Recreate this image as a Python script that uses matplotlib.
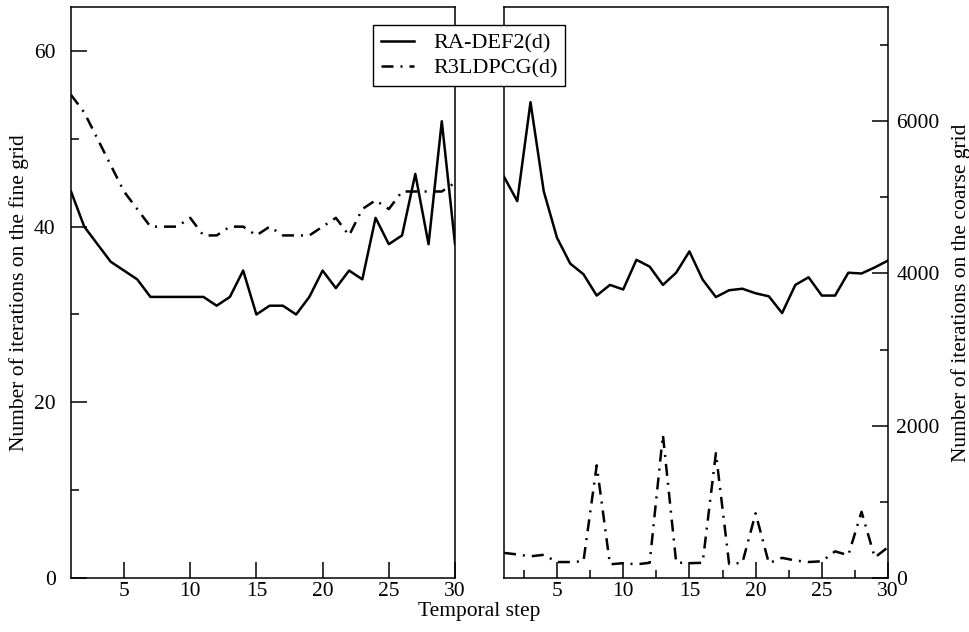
import numpy as np
import matplotlib.pyplot as plt
from matplotlib.ticker import MultipleLocator

plt.rcParams['font.family'] = ['Liberation Serif', 'DejaVu Serif']
plt.rcParams['font.size'] = 15.5

# data
steps = list(range(1, 31))

# fine grid iterations (left panel)
fine_radef2 = [44, 40, 38, 36, 35, 34, 32, 32, 32, 32, 32, 31, 32, 35, 30,
               31, 31, 30, 32, 35, 33, 35, 34, 41, 38, 39, 46, 38, 52, 38]
fine_r3ldpcg = [55, 53, 50, 47, 44, 42, 40, 40, 40, 41, 39, 39, 40, 40, 39,
                40, 39, 39, 39, 40, 41, 39, 42, 43, 42, 44, 44, 44, 44, 45]

# coarse grid iterations (right panel)
coarse_radef2 = [5270, 4950, 6250, 5080, 4470, 4130, 3990, 3710, 3850, 3790,
                 4180, 4090, 3850, 4010, 4290, 3920, 3690, 3780, 3800, 3740,
                 3700, 3480, 3850, 3950, 3710, 3710, 4010, 4000, 4080, 4170]
coarse_r3ldpcg = [330, 310, 285, 305, 210, 210, 220, 1480, 180, 195,
                  180, 200, 1880, 205, 195, 200, 1640, 185, 200, 850,
                  195, 265, 230, 210, 220, 350, 300, 870, 270, 405]

labels = ['RA-DEF2(d)', 'R3LDPCG(d)']

lw = 1.8
dashdot = (0, (4.8, 2.8, 0.8, 2.8))

fig = plt.figure(figsize=(9.7, 6.32), dpi=100)
ax1 = fig.add_axes([0.0732, 0.0854, 0.3959, 0.9035])
ax2 = fig.add_axes([0.5196, 0.0854, 0.3959, 0.9035])

l1, = ax1.plot(steps, fine_radef2, color='black', lw=lw, label=labels[0])
l2, = ax1.plot(steps, fine_r3ldpcg, color='black', lw=lw, linestyle=dashdot, label=labels[1])
ax2.plot(steps, coarse_radef2, color='black', lw=lw)
ax2.plot(steps, coarse_r3ldpcg, color='black', lw=lw, linestyle=dashdot)

# left panel
ax1.set_xlim(1, 30)
ax1.set_ylim(0, 65)
ax1.xaxis.set_major_locator(MultipleLocator(5))
ax1.yaxis.set_major_locator(MultipleLocator(20))
ax1.yaxis.set_minor_locator(MultipleLocator(10))
ax1.tick_params(axis='both', which='major', direction='in', length=11.5, width=1.1)
ax1.tick_params(axis='x', which='major', pad=3)
ax1.tick_params(axis='y', which='major', pad=11)
ax1.tick_params(axis='y', which='minor', direction='in', length=5.8, width=1.1)
ax1.tick_params(top=False, right=False)
ax1.set_ylabel('Number of iterations on the fine grid', labelpad=4)

# right panel
ax2.set_xlim(1, 30)
ax2.set_ylim(0, 7500)
ax2.xaxis.set_major_locator(MultipleLocator(5))
ax2.xaxis.set_minor_locator(MultipleLocator(2.5))
ax2.yaxis.set_major_locator(MultipleLocator(2000))
ax2.yaxis.set_minor_locator(MultipleLocator(1000))
ax2.yaxis.tick_right()
ax2.yaxis.set_label_position('right')
ax2.tick_params(axis='both', which='major', direction='in', length=11.5, width=1.1)
ax2.tick_params(axis='x', which='major', pad=3)
ax2.tick_params(axis='y', which='major', pad=6)
ax2.tick_params(axis='both', which='minor', direction='in', length=5.8, width=1.1)
ax2.tick_params(left=False, top=False, which='both')
ax2.set_ylabel('Number of iterations on the coarse grid', labelpad=8)

for ax in (ax1, ax2):
    for sp in ax.spines.values():
        sp.set_linewidth(1.1)

fig.text(0.4943, 0.033, 'Temporal step', ha='center', va='center')

leg = fig.legend(handles=[l1, l2], loc='upper left', bbox_to_anchor=(0.3845, 0.9604),
                 borderaxespad=0, fancybox=False, edgecolor='black', framealpha=1,
                 handlelength=1.5, handletextpad=0.85, borderpad=0.35, labelspacing=0.2,
                 fontsize=16)
leg.get_frame().set_linewidth(1.0)
leg.set_zorder(10)

fig.savefig('out.png', dpi=100)
